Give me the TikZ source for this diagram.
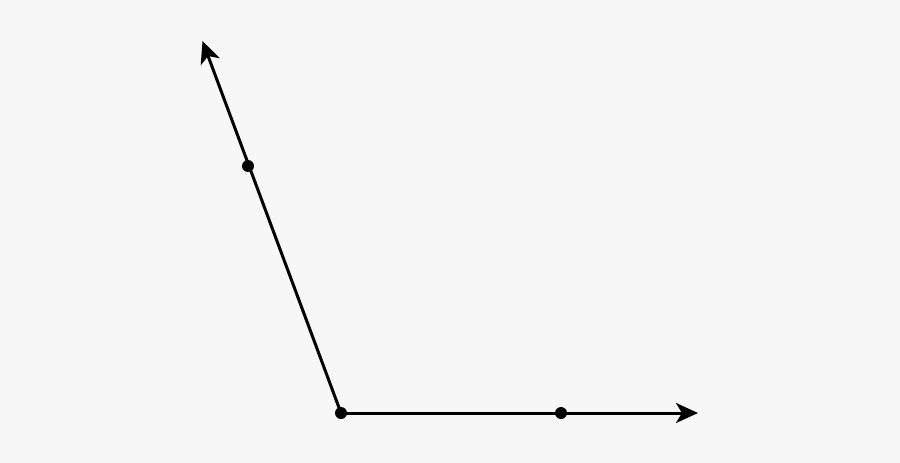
\documentclass[tikz,border=0pt]{standalone}
\usetikzlibrary{arrows.meta}
\definecolor{bg}{HTML}{F7F7F7}
\tikzset{
  ray/.style={line width=3pt, -{Stealth[length=22pt,width=20pt,inset=6pt]}},
  pt/.style={circle, fill=black, inner sep=0pt, minimum size=12pt}
}
\begin{document}
\begin{tikzpicture}[x=1pt,y=-1pt]
\fill[bg] (0,0) rectangle (900,463);
\useasboundingbox (0,0) rectangle (900,463);
\coordinate (A) at (341,413);
\coordinate (B) at (698,413);
\coordinate (C) at (202.5,41);
\draw[ray] (A) -- (B);
\draw[ray] (A) -- (C);
\node[pt] (p0) at (A) {};
\node[pt] (p1) at (561,413) {};
\node[pt] (p2) at (248,166) {};
\end{tikzpicture}
\end{document}
